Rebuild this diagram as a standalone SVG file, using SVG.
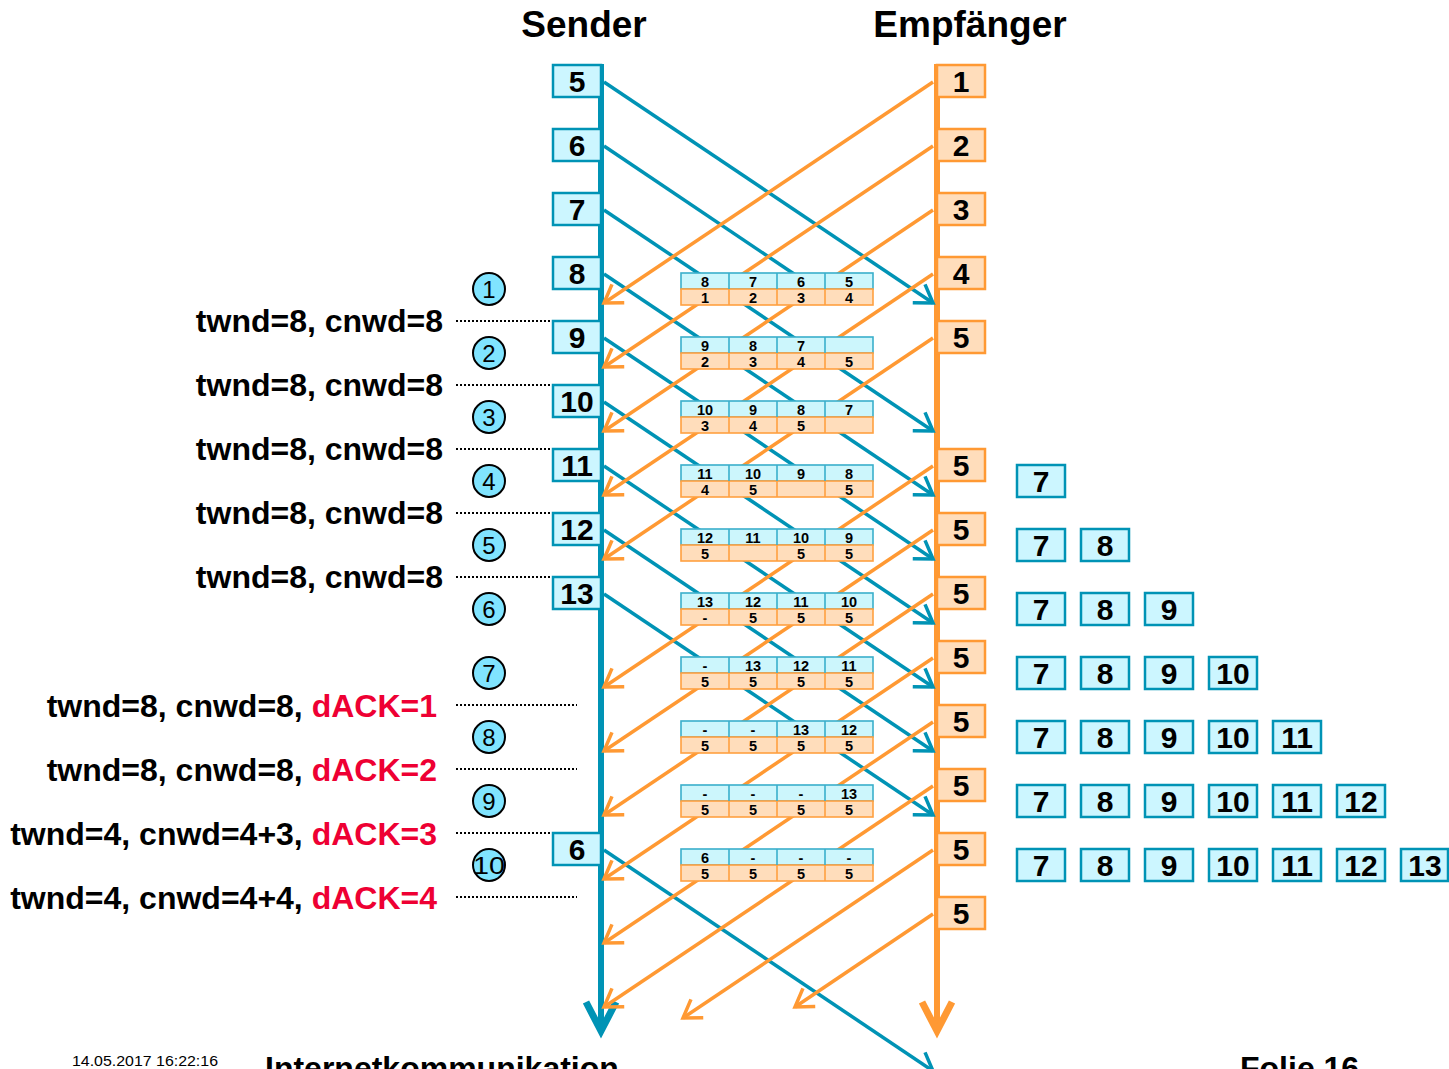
<svg xmlns="http://www.w3.org/2000/svg" width="1449" height="1069" viewBox="0 0 1449 1069">
<style>
.tl{stroke:#0093B5;stroke-width:3.5;fill:none}
.ol{stroke:#FF9933;stroke-width:3.5;fill:none}
.sb{fill:#CCF6FF;stroke:#0093B5;stroke-width:2.5}
.rb{fill:#FFDDBB;stroke:#FF9933;stroke-width:2.5}
.bn{font-family:"Liberation Sans",Arial,sans-serif;font-weight:bold;font-size:30px;text-anchor:middle;fill:#000}
.tt{fill:#CCF6FC;stroke:#3AAFCB;stroke-width:1.6}
.tb{fill:#FFDDBB;stroke:#FFA040;stroke-width:1.6}
.tvt{stroke:#3AAFCB;stroke-width:1.6}
.tvb{stroke:#FFA040;stroke-width:1.6}
.tn{font-family:"Liberation Sans",Arial,sans-serif;font-weight:bold;font-size:14.5px;text-anchor:middle;fill:#000}
.lab{font-family:"Liberation Sans",Arial,sans-serif;font-weight:bold;font-size:32px;text-anchor:end;fill:#000}
.red{fill:#EE0033}
.dot{stroke:#000;stroke-width:2;stroke-dasharray:2 2}
.circ{fill:#80E4FF;stroke:#000;stroke-width:2}
.cn{font-family:"Liberation Sans",Arial,sans-serif;font-size:24px;text-anchor:middle;fill:#000}
.title{font-family:"Liberation Sans",Arial,sans-serif;font-weight:bold;font-size:37px;text-anchor:middle;fill:#000}
.foot{font-family:"Liberation Sans",Arial,sans-serif;font-weight:bold;font-size:32px;fill:#000}
</style>
<defs>
<marker id="at" markerUnits="userSpaceOnUse" markerWidth="40" markerHeight="40" viewBox="-25 -20 30 40" refX="0" refY="0" orient="auto" overflow="visible">
<path d="M-17,-11 L0,0 L-17,11" fill="none" stroke="#0093B5" stroke-width="3.5"/>
</marker>
<marker id="ao" markerUnits="userSpaceOnUse" markerWidth="40" markerHeight="40" viewBox="-25 -20 30 40" refX="0" refY="0" orient="auto" overflow="visible">
<path d="M-17,-11 L0,0 L-17,11" fill="none" stroke="#FF9933" stroke-width="3.5"/>
</marker>
</defs>
<rect width="1449" height="1069" fill="#fff"/>

<text class="title" x="584" y="37">Sender</text>
<text class="title" x="970" y="37">Empfänger</text>

<g id="lifelines">
<line x1="601" y1="64" x2="601" y2="1031" stroke="#0093B5" stroke-width="6"/>
<polyline points="586,1002 601,1031 616,1002" fill="none" stroke="#0093B5" stroke-width="7"/>
<line x1="937" y1="64" x2="937" y2="1031" stroke="#FF9933" stroke-width="6"/>
<polyline points="922,1002 937,1031 952,1002" fill="none" stroke="#FF9933" stroke-width="7"/>
</g>

<g id="connectors">
<line class="tl" x1="604" y1="82" x2="933" y2="303" marker-end="url(#at)"/>
<line class="tl" x1="604" y1="146" x2="800" y2="278"/>
<line class="tl" x1="604" y1="210" x2="933" y2="431" marker-end="url(#at)"/>
<line class="tl" x1="604" y1="274" x2="933" y2="495" marker-end="url(#at)"/>
<line class="tl" x1="604" y1="338" x2="933" y2="559" marker-end="url(#at)"/>
<line class="tl" x1="604" y1="402" x2="933" y2="623" marker-end="url(#at)"/>
<line class="tl" x1="604" y1="466" x2="933" y2="687" marker-end="url(#at)"/>
<line class="tl" x1="604" y1="530" x2="933" y2="751" marker-end="url(#at)"/>
<line class="tl" x1="604" y1="594" x2="933" y2="815" marker-end="url(#at)"/>
<line class="tl" x1="604" y1="850" x2="933" y2="1071" marker-end="url(#at)"/>

<line class="ol" x1="933" y1="82" x2="604" y2="303" marker-end="url(#ao)"/>
<line class="ol" x1="933" y1="146" x2="604" y2="367" marker-end="url(#ao)"/>
<line class="ol" x1="933" y1="210" x2="604" y2="431" marker-end="url(#ao)"/>
<line class="ol" x1="933" y1="274" x2="604" y2="495" marker-end="url(#ao)"/>
<line class="ol" x1="933" y1="338" x2="604" y2="559" marker-end="url(#ao)"/>
<line class="ol" x1="933" y1="466" x2="604" y2="687" marker-end="url(#ao)"/>
<line class="ol" x1="933" y1="530" x2="604" y2="751" marker-end="url(#ao)"/>
<line class="ol" x1="933" y1="594" x2="604" y2="815" marker-end="url(#ao)"/>
<line class="ol" x1="933" y1="658" x2="604" y2="879" marker-end="url(#ao)"/>
<line class="ol" x1="933" y1="722" x2="604" y2="943" marker-end="url(#ao)"/>
<line class="ol" x1="933" y1="786" x2="604" y2="1007" marker-end="url(#ao)"/>
<line class="ol" x1="933" y1="850" x2="683" y2="1018" marker-end="url(#ao)"/>
<line class="ol" x1="933" y1="914" x2="795" y2="1007" marker-end="url(#ao)"/>
</g>

<g id="tables">
<g id="table1" transform="translate(681,273)">
<rect class="tt" x="0" y="0" width="192" height="16"/><rect class="tb" x="0" y="16" width="192" height="16"/>
<path class="tvt" d="M48,0V16M96,0V16M144,0V16"/><path class="tvb" d="M48,16V32M96,16V32M144,16V32"/>
<text class="tn" x="24" y="13.5">8</text><text class="tn" x="72" y="13.5">7</text><text class="tn" x="120" y="13.5">6</text><text class="tn" x="168" y="13.5">5</text>
<text class="tn" x="24" y="29.5">1</text><text class="tn" x="72" y="29.5">2</text><text class="tn" x="120" y="29.5">3</text><text class="tn" x="168" y="29.5">4</text>
</g>
<g id="table2" transform="translate(681,337)">
<rect class="tt" x="0" y="0" width="192" height="16"/><rect class="tb" x="0" y="16" width="192" height="16"/>
<path class="tvt" d="M48,0V16M96,0V16M144,0V16"/><path class="tvb" d="M48,16V32M96,16V32M144,16V32"/>
<text class="tn" x="24" y="13.5">9</text><text class="tn" x="72" y="13.5">8</text><text class="tn" x="120" y="13.5">7</text>
<text class="tn" x="24" y="29.5">2</text><text class="tn" x="72" y="29.5">3</text><text class="tn" x="120" y="29.5">4</text><text class="tn" x="168" y="29.5">5</text>
</g>
<g id="table3" transform="translate(681,401)">
<rect class="tt" x="0" y="0" width="192" height="16"/><rect class="tb" x="0" y="16" width="192" height="16"/>
<path class="tvt" d="M48,0V16M96,0V16M144,0V16"/><path class="tvb" d="M48,16V32M96,16V32M144,16V32"/>
<text class="tn" x="24" y="13.5">10</text><text class="tn" x="72" y="13.5">9</text><text class="tn" x="120" y="13.5">8</text><text class="tn" x="168" y="13.5">7</text>
<text class="tn" x="24" y="29.5">3</text><text class="tn" x="72" y="29.5">4</text><text class="tn" x="120" y="29.5">5</text>
</g>
<g id="table4" transform="translate(681,465)">
<rect class="tt" x="0" y="0" width="192" height="16"/><rect class="tb" x="0" y="16" width="192" height="16"/>
<path class="tvt" d="M48,0V16M96,0V16M144,0V16"/><path class="tvb" d="M48,16V32M96,16V32M144,16V32"/>
<text class="tn" x="24" y="13.5">11</text><text class="tn" x="72" y="13.5">10</text><text class="tn" x="120" y="13.5">9</text><text class="tn" x="168" y="13.5">8</text>
<text class="tn" x="24" y="29.5">4</text><text class="tn" x="72" y="29.5">5</text><text class="tn" x="168" y="29.5">5</text>
</g>
<g id="table5" transform="translate(681,529)">
<rect class="tt" x="0" y="0" width="192" height="16"/><rect class="tb" x="0" y="16" width="192" height="16"/>
<path class="tvt" d="M48,0V16M96,0V16M144,0V16"/><path class="tvb" d="M48,16V32M96,16V32M144,16V32"/>
<text class="tn" x="24" y="13.5">12</text><text class="tn" x="72" y="13.5">11</text><text class="tn" x="120" y="13.5">10</text><text class="tn" x="168" y="13.5">9</text>
<text class="tn" x="24" y="29.5">5</text><text class="tn" x="120" y="29.5">5</text><text class="tn" x="168" y="29.5">5</text>
</g>
<g id="table6" transform="translate(681,593)">
<rect class="tt" x="0" y="0" width="192" height="16"/><rect class="tb" x="0" y="16" width="192" height="16"/>
<path class="tvt" d="M48,0V16M96,0V16M144,0V16"/><path class="tvb" d="M48,16V32M96,16V32M144,16V32"/>
<text class="tn" x="24" y="13.5">13</text><text class="tn" x="72" y="13.5">12</text><text class="tn" x="120" y="13.5">11</text><text class="tn" x="168" y="13.5">10</text>
<text class="tn" x="24" y="29.5">-</text><text class="tn" x="72" y="29.5">5</text><text class="tn" x="120" y="29.5">5</text><text class="tn" x="168" y="29.5">5</text>
</g>
<g id="table7" transform="translate(681,657)">
<rect class="tt" x="0" y="0" width="192" height="16"/><rect class="tb" x="0" y="16" width="192" height="16"/>
<path class="tvt" d="M48,0V16M96,0V16M144,0V16"/><path class="tvb" d="M48,16V32M96,16V32M144,16V32"/>
<text class="tn" x="24" y="13.5">-</text><text class="tn" x="72" y="13.5">13</text><text class="tn" x="120" y="13.5">12</text><text class="tn" x="168" y="13.5">11</text>
<text class="tn" x="24" y="29.5">5</text><text class="tn" x="72" y="29.5">5</text><text class="tn" x="120" y="29.5">5</text><text class="tn" x="168" y="29.5">5</text>
</g>
<g id="table8" transform="translate(681,721)">
<rect class="tt" x="0" y="0" width="192" height="16"/><rect class="tb" x="0" y="16" width="192" height="16"/>
<path class="tvt" d="M48,0V16M96,0V16M144,0V16"/><path class="tvb" d="M48,16V32M96,16V32M144,16V32"/>
<text class="tn" x="24" y="13.5">-</text><text class="tn" x="72" y="13.5">-</text><text class="tn" x="120" y="13.5">13</text><text class="tn" x="168" y="13.5">12</text>
<text class="tn" x="24" y="29.5">5</text><text class="tn" x="72" y="29.5">5</text><text class="tn" x="120" y="29.5">5</text><text class="tn" x="168" y="29.5">5</text>
</g>
<g id="table9" transform="translate(681,785)">
<rect class="tt" x="0" y="0" width="192" height="16"/><rect class="tb" x="0" y="16" width="192" height="16"/>
<path class="tvt" d="M48,0V16M96,0V16M144,0V16"/><path class="tvb" d="M48,16V32M96,16V32M144,16V32"/>
<text class="tn" x="24" y="13.5">-</text><text class="tn" x="72" y="13.5">-</text><text class="tn" x="120" y="13.5">-</text><text class="tn" x="168" y="13.5">13</text>
<text class="tn" x="24" y="29.5">5</text><text class="tn" x="72" y="29.5">5</text><text class="tn" x="120" y="29.5">5</text><text class="tn" x="168" y="29.5">5</text>
</g>
<g id="table10" transform="translate(681,849)">
<rect class="tt" x="0" y="0" width="192" height="16"/><rect class="tb" x="0" y="16" width="192" height="16"/>
<path class="tvt" d="M48,0V16M96,0V16M144,0V16"/><path class="tvb" d="M48,16V32M96,16V32M144,16V32"/>
<text class="tn" x="24" y="13.5">6</text><text class="tn" x="72" y="13.5">-</text><text class="tn" x="120" y="13.5">-</text><text class="tn" x="168" y="13.5">-</text>
<text class="tn" x="24" y="29.5">5</text><text class="tn" x="72" y="29.5">5</text><text class="tn" x="120" y="29.5">5</text><text class="tn" x="168" y="29.5">5</text>
</g>
</g>

<g id="dotted">
<path class="dot" d="M456,321H577M456,385H577M456,449H577M456,513H577M456,577H577M456,705H577M456,769H577M456,833H577M456,897H577"/>
</g>

<g id="sender-packets">
<g id="s5"><rect class="sb" x="553" y="65" width="48" height="32"/><text class="bn" x="577" y="92">5</text></g>
<g id="s6"><rect class="sb" x="553" y="129" width="48" height="32"/><text class="bn" x="577" y="156">6</text></g>
<g id="s7"><rect class="sb" x="553" y="193" width="48" height="32"/><text class="bn" x="577" y="220">7</text></g>
<g id="s8"><rect class="sb" x="553" y="257" width="48" height="32"/><text class="bn" x="577" y="284">8</text></g>
<g id="s9"><rect class="sb" x="553" y="321" width="48" height="32"/><text class="bn" x="577" y="348">9</text></g>
<g id="s10"><rect class="sb" x="553" y="385" width="48" height="32"/><text class="bn" x="577" y="412">10</text></g>
<g id="s11"><rect class="sb" x="553" y="449" width="48" height="32"/><text class="bn" x="577" y="476">11</text></g>
<g id="s12"><rect class="sb" x="553" y="513" width="48" height="32"/><text class="bn" x="577" y="540">12</text></g>
<g id="s13"><rect class="sb" x="553" y="577" width="48" height="32"/><text class="bn" x="577" y="604">13</text></g>
<g id="s6r"><rect class="sb" x="553" y="833" width="48" height="32"/><text class="bn" x="577" y="860">6</text></g>
</g>

<g id="receiver-acks">
<g id="r1"><rect class="rb" x="937" y="65" width="48" height="32"/><text class="bn" x="961" y="92">1</text></g>
<g id="r2"><rect class="rb" x="937" y="129" width="48" height="32"/><text class="bn" x="961" y="156">2</text></g>
<g id="r3"><rect class="rb" x="937" y="193" width="48" height="32"/><text class="bn" x="961" y="220">3</text></g>
<g id="r4"><rect class="rb" x="937" y="257" width="48" height="32"/><text class="bn" x="961" y="284">4</text></g>
<g id="r5a"><rect class="rb" x="937" y="321" width="48" height="32"/><text class="bn" x="961" y="348">5</text></g>
<g id="r5b"><rect class="rb" x="937" y="449" width="48" height="32"/><text class="bn" x="961" y="476">5</text></g>
<g id="r5c"><rect class="rb" x="937" y="513" width="48" height="32"/><text class="bn" x="961" y="540">5</text></g>
<g id="r5d"><rect class="rb" x="937" y="577" width="48" height="32"/><text class="bn" x="961" y="604">5</text></g>
<g id="r5e"><rect class="rb" x="937" y="641" width="48" height="32"/><text class="bn" x="961" y="668">5</text></g>
<g id="r5f"><rect class="rb" x="937" y="705" width="48" height="32"/><text class="bn" x="961" y="732">5</text></g>
<g id="r5g"><rect class="rb" x="937" y="769" width="48" height="32"/><text class="bn" x="961" y="796">5</text></g>
<g id="r5h"><rect class="rb" x="937" y="833" width="48" height="32"/><text class="bn" x="961" y="860">5</text></g>
<g id="r5i"><rect class="rb" x="937" y="897" width="48" height="32"/><text class="bn" x="961" y="924">5</text></g>
</g>

<g id="buffer">
<g id="row1" transform="translate(0,465)">
<rect class="sb" x="1017" y="0" width="48" height="32"/><text class="bn" x="1041" y="27">7</text>
</g>
<g id="row2" transform="translate(0,529)">
<rect class="sb" x="1017" y="0" width="48" height="32"/><text class="bn" x="1041" y="27">7</text>
<rect class="sb" x="1081" y="0" width="48" height="32"/><text class="bn" x="1105" y="27">8</text>
</g>
<g id="row3" transform="translate(0,593)">
<rect class="sb" x="1017" y="0" width="48" height="32"/><text class="bn" x="1041" y="27">7</text>
<rect class="sb" x="1081" y="0" width="48" height="32"/><text class="bn" x="1105" y="27">8</text>
<rect class="sb" x="1145" y="0" width="48" height="32"/><text class="bn" x="1169" y="27">9</text>
</g>
<g id="row4" transform="translate(0,657)">
<rect class="sb" x="1017" y="0" width="48" height="32"/><text class="bn" x="1041" y="27">7</text>
<rect class="sb" x="1081" y="0" width="48" height="32"/><text class="bn" x="1105" y="27">8</text>
<rect class="sb" x="1145" y="0" width="48" height="32"/><text class="bn" x="1169" y="27">9</text>
<rect class="sb" x="1209" y="0" width="48" height="32"/><text class="bn" x="1233" y="27">10</text>
</g>
<g id="row5" transform="translate(0,721)">
<rect class="sb" x="1017" y="0" width="48" height="32"/><text class="bn" x="1041" y="27">7</text>
<rect class="sb" x="1081" y="0" width="48" height="32"/><text class="bn" x="1105" y="27">8</text>
<rect class="sb" x="1145" y="0" width="48" height="32"/><text class="bn" x="1169" y="27">9</text>
<rect class="sb" x="1209" y="0" width="48" height="32"/><text class="bn" x="1233" y="27">10</text>
<rect class="sb" x="1273" y="0" width="48" height="32"/><text class="bn" x="1297" y="27">11</text>
</g>
<g id="row6" transform="translate(0,785)">
<rect class="sb" x="1017" y="0" width="48" height="32"/><text class="bn" x="1041" y="27">7</text>
<rect class="sb" x="1081" y="0" width="48" height="32"/><text class="bn" x="1105" y="27">8</text>
<rect class="sb" x="1145" y="0" width="48" height="32"/><text class="bn" x="1169" y="27">9</text>
<rect class="sb" x="1209" y="0" width="48" height="32"/><text class="bn" x="1233" y="27">10</text>
<rect class="sb" x="1273" y="0" width="48" height="32"/><text class="bn" x="1297" y="27">11</text>
<rect class="sb" x="1337" y="0" width="48" height="32"/><text class="bn" x="1361" y="27">12</text>
</g>
<g id="row7" transform="translate(0,849)">
<rect class="sb" x="1017" y="0" width="48" height="32"/><text class="bn" x="1041" y="27">7</text>
<rect class="sb" x="1081" y="0" width="48" height="32"/><text class="bn" x="1105" y="27">8</text>
<rect class="sb" x="1145" y="0" width="48" height="32"/><text class="bn" x="1169" y="27">9</text>
<rect class="sb" x="1209" y="0" width="48" height="32"/><text class="bn" x="1233" y="27">10</text>
<rect class="sb" x="1273" y="0" width="48" height="32"/><text class="bn" x="1297" y="27">11</text>
<rect class="sb" x="1337" y="0" width="48" height="32"/><text class="bn" x="1361" y="27">12</text>
<rect class="sb" x="1401" y="0" width="47" height="32"/><text class="bn" x="1425" y="27">13</text>
</g>
</g>

<g id="steps">
<g id="c1"><circle class="circ" cx="489" cy="289" r="16"/><text class="cn" x="489" y="297.5">1</text></g>
<g id="c2"><circle class="circ" cx="489" cy="353" r="16"/><text class="cn" x="489" y="361.5">2</text></g>
<g id="c3"><circle class="circ" cx="489" cy="417" r="16"/><text class="cn" x="489" y="425.5">3</text></g>
<g id="c4"><circle class="circ" cx="489" cy="481" r="16"/><text class="cn" x="489" y="489.5">4</text></g>
<g id="c5"><circle class="circ" cx="489" cy="545" r="16"/><text class="cn" x="489" y="553.5">5</text></g>
<g id="c6"><circle class="circ" cx="489" cy="609" r="16"/><text class="cn" x="489" y="617.5">6</text></g>
<g id="c7"><circle class="circ" cx="489" cy="673" r="16"/><text class="cn" x="489" y="681.5">7</text></g>
<g id="c8"><circle class="circ" cx="489" cy="737" r="16"/><text class="cn" x="489" y="745.5">8</text></g>
<g id="c9"><circle class="circ" cx="489" cy="801" r="16"/><text class="cn" x="489" y="809.5">9</text></g>
<g id="c10"><circle class="circ" cx="489" cy="865" r="16"/><text class="cn" x="489" y="873.5" textLength="32" lengthAdjust="spacingAndGlyphs">10</text></g>
</g>

<g id="labels">
<text class="lab" x="443" y="332">twnd=8, cnwd=8</text>
<text class="lab" x="443" y="396">twnd=8, cnwd=8</text>
<text class="lab" x="443" y="460">twnd=8, cnwd=8</text>
<text class="lab" x="443" y="524">twnd=8, cnwd=8</text>
<text class="lab" x="443" y="588">twnd=8, cnwd=8</text>
<text class="lab" x="437" y="717">twnd=8, cnwd=8, <tspan class="red">dACK=1</tspan></text>
<text class="lab" x="437" y="781">twnd=8, cnwd=8, <tspan class="red">dACK=2</tspan></text>
<text class="lab" x="437" y="845">twnd=4, cnwd=4+3, <tspan class="red">dACK=3</tspan></text>
<text class="lab" x="437" y="909">twnd=4, cnwd=4+4, <tspan class="red">dACK=4</tspan></text>
</g>

<g id="footer">
<text x="72" y="1066" font-family="'Liberation Sans',Arial,sans-serif" font-size="14" fill="#000" textLength="146" lengthAdjust="spacingAndGlyphs">14.05.2017 16:22:16</text>
<text class="foot" x="265" y="1079">Internetkommunikation</text>
<text class="foot" x="1240" y="1079">Folie 16</text>
</g>
</svg>
